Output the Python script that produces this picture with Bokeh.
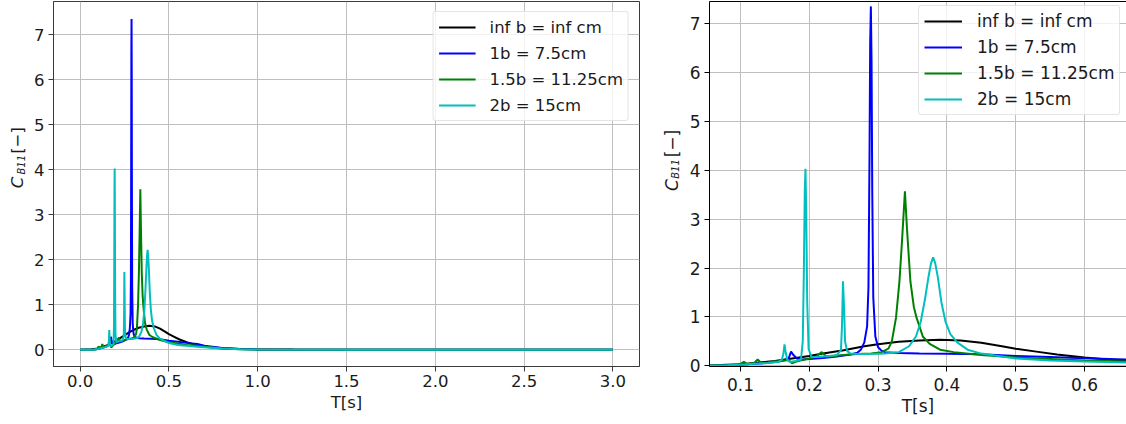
import numpy as np
from bokeh.plotting import figure
from bokeh.models import Range1d, FixedTicker, PrintfTickFormatter, LinearAxis, Legend
from bokeh.core.properties import value
from bokeh.layouts import row
from bokeh.embed import file_html
from bokeh.resources import INLINE

# ---------------- data ----------------
series_labels = ["inf b = inf cm", "1b = 7.5cm", "1.5b = 11.25cm", "2b = 15cm"]
series_colors = ["#000000", "#0000ff", "#008000", "#00bfbf"]

T_inf = [0.0, 0.05, 0.08, 0.1, 0.12, 0.15, 0.18, 0.2, 0.22, 0.25, 0.28, 0.3, 0.33, 0.36, 0.39,
         0.42, 0.45, 0.48, 0.5, 0.53, 0.56, 0.6, 0.65, 0.7, 0.8, 0.9, 1.0, 1.2, 1.5, 2.0, 2.5, 3.0]
C_inf = [0.0, 0.005, 0.02, 0.03, 0.06, 0.1, 0.16, 0.2, 0.25, 0.32, 0.4, 0.44, 0.49, 0.52, 0.535,
         0.52, 0.47, 0.4, 0.35, 0.29, 0.23, 0.17, 0.11, 0.075, 0.035, 0.018, 0.01, 0.005, 0.003,
         0.002, 0.001, 0.001]

T_1b = [0.0, 0.05, 0.08, 0.1, 0.12, 0.14, 0.16, 0.17, 0.1735, 0.177, 0.182, 0.19, 0.2, 0.22,
        0.24, 0.26, 0.27, 0.275, 0.28, 0.284, 0.286, 0.2875, 0.2885, 0.2895, 0.2905, 0.2915,
        0.293, 0.296, 0.3, 0.305, 0.31, 0.33, 0.36, 0.4, 0.45, 0.5, 0.55, 0.6, 0.66, 0.7, 0.8,
        0.9, 1.0, 1.5, 2.0, 2.5, 3.0]
C_1b = [0.0, 0.003, 0.01, 0.02, 0.04, 0.06, 0.1, 0.15, 0.29, 0.22, 0.15, 0.13, 0.14, 0.16,
        0.19, 0.23, 0.27, 0.33, 0.48, 0.8, 1.6, 4.2, 6.6, 7.35, 6.2, 3.6,
        1.4, 0.6, 0.38, 0.31, 0.28, 0.26, 0.25, 0.245, 0.235, 0.2, 0.18, 0.155, 0.13, 0.09, 0.04,
        0.02, 0.01, 0.004, 0.002, 0.001, 0.001]

T_15b = [0.0, 0.05, 0.08, 0.095, 0.1, 0.105, 0.11, 0.12, 0.125, 0.13, 0.14, 0.15, 0.16, 0.17,
         0.175, 0.18, 0.19, 0.2, 0.21, 0.218, 0.225, 0.235, 0.25, 0.27, 0.29, 0.305, 0.315, 0.32,
         0.326, 0.331, 0.335, 0.339, 0.342, 0.347, 0.352, 0.356, 0.365, 0.375, 0.39, 0.41, 0.45,
         0.5, 0.55, 0.6, 0.66, 0.7, 0.8, 0.9, 1.0, 1.5, 2.0, 2.5, 3.0]
C_15b = [0.0, 0.003, 0.01, 0.02, 0.04, 0.08, 0.03, 0.06, 0.13, 0.06, 0.07, 0.09, 0.1, 0.12,
         0.05, 0.08, 0.12, 0.15, 0.19, 0.28, 0.19, 0.2, 0.22, 0.24, 0.25, 0.28, 0.35, 0.5,
         0.98, 1.72, 2.6, 3.57, 2.8, 1.72, 1.2, 0.98, 0.6, 0.45, 0.33, 0.28, 0.22,
         0.17, 0.14, 0.11, 0.09, 0.07, 0.03, 0.015, 0.008, 0.004, 0.002, 0.001, 0.001]

T_2b = [0.0, 0.05, 0.08, 0.1, 0.12, 0.14, 0.155, 0.16, 0.1625, 0.164, 0.1655, 0.168, 0.172, 0.18,
        0.188, 0.1905, 0.192, 0.1935, 0.1945, 0.1955, 0.197, 0.199, 0.203, 0.21, 0.22, 0.23, 0.24,
        0.246, 0.2475, 0.249, 0.2505, 0.252, 0.255, 0.26, 0.27, 0.29, 0.31, 0.33, 0.345, 0.355,
        0.362, 0.368, 0.373, 0.377, 0.38, 0.383, 0.387, 0.392, 0.398, 0.405, 0.415, 0.43, 0.45,
        0.5, 0.55, 0.6, 0.66, 0.7, 0.8, 0.9, 1.0, 1.5, 2.0, 2.5, 3.0]
C_2b = [0.0, 0.003, 0.01, 0.02, 0.04, 0.06, 0.08, 0.12, 0.25, 0.44, 0.3, 0.12, 0.08, 0.1,
        0.13, 0.5, 1.8, 3.6, 4.03, 3.2, 1.3, 0.35, 0.18, 0.18, 0.19, 0.2, 0.22,
        0.32, 0.8, 1.73, 1.2, 0.5, 0.3, 0.25, 0.24, 0.24, 0.25, 0.28, 0.4, 0.6,
        0.9, 1.35, 1.8, 2.1, 2.22, 2.1, 1.8, 1.3, 0.9, 0.65, 0.48, 0.33, 0.25,
        0.15, 0.11, 0.09, 0.07, 0.06, 0.03, 0.015, 0.008, 0.004, 0.002, 0.001, 0.001]

series_T = [T_inf, T_1b, T_15b, T_2b]
series_C = [C_inf, C_1b, C_15b, C_2b]

x_ticks_full = [0.0, 0.5, 1.0, 1.5, 2.0, 2.5, 3.0]
x_ticks_zoom = [0.1, 0.2, 0.3, 0.4, 0.5, 0.6]
y_ticks = [0, 1, 2, 3, 4, 5, 6, 7]
x_label = "T[s]"
y_label_parts = ["C", "B11", "[\u2212]"]

FONT = "DejaVu Sans"
TXT = "#1a1a1a"
H = 424


def style_axes(p, xticks, spine, fs, tick_standoff, label_standoff):
    p.xaxis.ticker = FixedTicker(ticks=xticks)
    p.xaxis.formatter = PrintfTickFormatter(format="%.1f")
    p.yaxis.ticker = FixedTicker(ticks=y_ticks)
    p.yaxis.formatter = PrintfTickFormatter(format="%d")
    for ax in (p.xaxis, p.yaxis):
        ax.major_label_text_font = FONT
        ax.major_label_text_font_size = fs
        ax.major_label_text_color = TXT
        ax.major_tick_out = 5
        ax.major_tick_in = 0
        ax.minor_tick_line_color = None
        ax.axis_line_color = spine
        ax.major_tick_line_color = spine
    p.yaxis.major_label_standoff = 4
    p.xaxis.major_label_standoff = tick_standoff
    p.xaxis.axis_label = x_label
    p.xaxis.axis_label_text_font = FONT
    p.xaxis.axis_label_text_font_size = fs
    p.xaxis.axis_label_text_font_style = "normal"
    p.xaxis.axis_label_text_color = TXT
    p.xaxis.axis_label_standoff = label_standoff
    for g in (p.xgrid, p.ygrid):
        g.grid_line_color = "#bfbfbf"
        g.grid_line_width = 1
    p.xgrid.ticker = FixedTicker(ticks=xticks)
    p.ygrid.ticker = FixedTicker(ticks=y_ticks)


def ylabel_strip(width, xc, y_c, y_sub, y_br, fs):
    """Narrow figure carrying the rotated y-axis label C_{B11} [-] as real text."""
    s = figure(width=width, height=H, output_backend="svg", toolbar_location=None,
               x_range=Range1d(0, width), y_range=Range1d(0, H),
               x_axis_type=None, y_axis_type=None,
               min_border_left=0, min_border_right=0, min_border_top=0, min_border_bottom=0)
    s.outline_line_color = None
    s.xgrid.visible = False
    s.ygrid.visible = False
    common = dict(angle=np.pi / 2, text_font=value(FONT), text_align="left",
                  text_baseline="middle", text_color=TXT)
    s.text(x=[xc], y=[H - y_c], text=[y_label_parts[0]], text_font_size=fs,
           text_font_style="italic", **common)
    s.text(x=[xc + 4], y=[H - y_sub], text=[y_label_parts[1]], text_font_size="10px",
           text_font_style="italic", **common)
    s.text(x=[xc], y=[H - y_br], text=[y_label_parts[2]], text_font_size=fs, **common)
    return s


def style_legend(p, fs, gw, standoff):
    lg = p.legend[0]
    lg.label_text_font = FONT
    lg.label_text_font_size = fs
    lg.label_text_color = TXT
    lg.glyph_width = gw
    lg.glyph_height = 20
    lg.label_height = 20
    lg.label_standoff = standoff
    lg.spacing = 6
    lg.padding = 5
    lg.border_line_color = "#cccccc"
    lg.border_line_width = 1
    lg.background_fill_color = "white"
    lg.background_fill_alpha = 0.8
    if "border_radius" in Legend.properties():
        lg.border_radius = 3
    return lg


# ---------------- left: full range ----------------
lab1 = ylabel_strip(28, 17, 217, 201, 177, "16.5px")
p1 = figure(width=632, height=H, output_backend="svg", toolbar_location=None,
            x_range=Range1d(-0.15, 3.15), y_range=Range1d(-0.37, 7.74),
            min_border_left=25, min_border_right=21, min_border_top=1, min_border_bottom=58)
for T, C, lab, col in zip(series_T, series_C, series_labels, series_colors):
    p1.line(T, C, line_color=col, line_width=2, legend_label=lab)
p1.outline_line_color = "#3a3a3a"
p1.outline_line_width = 1
style_axes(p1, x_ticks_full, "#3a3a3a", "16.5px", 3, 3)
lg1 = style_legend(p1, "16.5px", 37, 14)
lg1.location = "top_right"
lg1.margin = 10

# ---------------- right: zoom ----------------
lab2 = ylabel_strip(26, 11, 220, 206, 181, "17px")
p2 = figure(width=440, height=H, output_backend="svg", toolbar_location=None,
            x_range=Range1d(0.055, 0.661), y_range=Range1d(-0.014, 7.45),
            min_border_left=23, min_border_right=0, min_border_top=1, min_border_bottom=55)
for T, C, lab, col in zip(series_T, series_C, series_labels, series_colors):
    p2.line(T, C, line_color=col, line_width=2, legend_label=lab)
p2.outline_line_color = None
style_axes(p2, x_ticks_zoom, "black", "17px", 6, 2)
top_axis = LinearAxis(ticker=FixedTicker(ticks=[]), axis_line_color="black",
                      major_tick_out=0, major_tick_in=0, major_label_standoff=0,
                      minor_tick_line_color=None)
p2.add_layout(top_axis, "above")
lg2 = style_legend(p2, "17px", 38, 15)
lg2.location = (209, 251)

layout = row(lab1, p1, lab2, p2)
open("out.html", "w").write(file_html(layout, INLINE))
